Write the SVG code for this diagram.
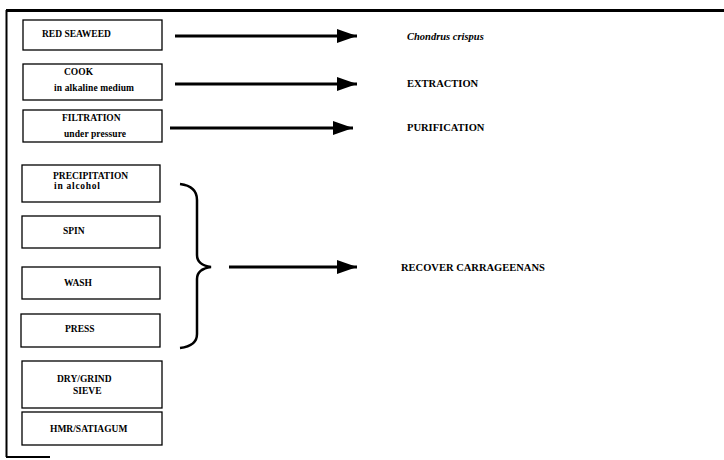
<svg xmlns="http://www.w3.org/2000/svg" width="724" height="460" viewBox="0 0 724 460">
<defs>
<style>
.box{fill:#fff;stroke:#000;stroke-width:1.3}
.t{font-family:'Liberation Serif','Times New Roman','DejaVu Serif',serif;font-weight:bold;font-size:9.5px;fill:#000}
.s{font-size:9.5px}
.r{font-size:10.5px}
.conn{stroke:#000;stroke-width:3;fill:none}
</style>
<marker id="ah" viewBox="0 0 20 14" refX="20" refY="7" markerWidth="20" markerHeight="14" markerUnits="userSpaceOnUse" orient="auto">
<polygon points="0,0 20,7 0,14" fill="#000"/>
</marker>
</defs>
<rect width="724" height="460" fill="#fff"/>
<g id="frame" fill="none" stroke="#000">
<path d="M6.5,457 V11 H724" stroke-width="2"/>
<path d="M724,10.5 H6" stroke-width="3"/>
<path d="M6,457 H50" stroke-width="2"/>
</g>
<g id="n1"><rect class="box" x="23" y="20" width="139" height="30"/><text class="t" x="42" y="37">RED SEAWEED</text></g>
<g id="n2"><rect class="box" x="23" y="64" width="139" height="36"/><text class="t" x="64" y="75">COOK</text><text class="t s" x="54" y="91" textLength="80">in alkaline medium</text></g>
<g id="n3"><rect class="box" x="23" y="110" width="139" height="32"/><text class="t" x="62" y="121">FILTRATION</text><text class="t s" x="64" y="137" textLength="62">under pressure</text></g>
<g id="n4"><rect class="box" x="22" y="165" width="138" height="37"/><text class="t" x="53" y="179">PRECIPITATION</text><text class="t s" x="54" y="189" textLength="46">in alcohol</text></g>
<g id="n5"><rect class="box" x="22" y="216" width="138" height="32"/><text class="t" x="63" y="234">SPIN</text></g>
<g id="n6"><rect class="box" x="22" y="267" width="138" height="32"/><text class="t" x="64" y="286">WASH</text></g>
<g id="n7"><rect class="box" x="21" y="314" width="139" height="33"/><text class="t" x="65" y="332">PRESS</text></g>
<g id="n8"><rect class="box" x="22" y="361" width="140" height="47"/><text class="t" x="57" y="382">DRY/GRIND</text><text class="t" x="73" y="394">SIEVE</text></g>
<g id="n9"><rect class="box" x="22" y="412" width="140" height="33"/><text class="t" x="50" y="432">HMR/SATIAGUM</text></g>
<g id="connectors">
<line class="conn" x1="175" y1="36" x2="357" y2="36" marker-end="url(#ah)"/>
<line class="conn" x1="175" y1="84" x2="357" y2="84" marker-end="url(#ah)"/>
<line class="conn" x1="170" y1="128" x2="353" y2="128" marker-end="url(#ah)"/>
<line class="conn" x1="229" y1="267" x2="357" y2="267" marker-end="url(#ah)"/>
<path d="M180,184 Q197,186 197,200 V255 Q197,265 211,267 Q197,269 197,279 V334 Q197,346 180,348" fill="none" stroke="#000" stroke-width="2.5"/>
</g>
<g id="labels">
<text class="t r" x="407" y="40" font-style="italic">Chondrus crispus</text>
<text class="t r" x="407" y="87">EXTRACTION</text>
<text class="t r" x="407" y="131">PURIFICATION</text>
<text class="t r" x="401" y="271">RECOVER CARRAGEENANS</text>
</g>
</svg>
